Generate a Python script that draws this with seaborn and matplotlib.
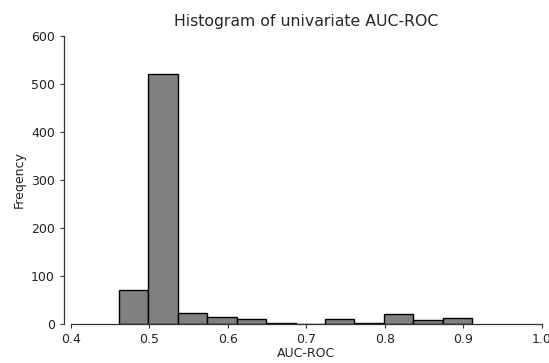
import numpy as np
import pandas as pd
import matplotlib
matplotlib.use("Agg")
import matplotlib.pyplot as plt
import seaborn as sns

# Bin edges and counts
bin_edges = [0.461, 0.4985, 0.536, 0.5735, 0.611, 0.6485, 0.686, 0.7235, 0.761, 0.7985, 0.836, 0.8735, 0.911]
counts = [71, 521, 23, 14, 10, 3, 1, 10, 3, 20, 8, 13]
x_ticks = [0.4, 0.5, 0.6, 0.7, 0.8, 0.9, 1.0]
y_ticks = [0, 100, 200, 300, 400, 500, 600]

centers = [(a + b) / 2 for a, b in zip(bin_edges[:-1], bin_edges[1:])]
df = pd.DataFrame({"auc": centers, "n": counts})

sns.set_style("white")
plt.rcParams["font.family"] = ["DejaVu Sans"]

fig = plt.figure(figsize=(5.49, 3.63), dpi=100)
ax = fig.add_axes([71/549, 1 - 324/363, (542-71)/549, (324-36)/363])

sns.histplot(data=df, x="auc", weights="n", bins=bin_edges, ax=ax,
             color="#808080", edgecolor="black", linewidth=1.0, alpha=1.0)

ax.set_xlim(0.4, 1.0)
ax.set_ylim(0, 600)
ax.set_xticks(x_ticks)
ax.set_yticks(y_ticks)
ax.tick_params(axis="both", labelsize=9, length=3, colors="#333333", labelcolor="#222222")
ax.tick_params(axis="both", which="both", bottom=True, left=True)
ax.set_xlabel("AUC-ROC", fontsize=9, labelpad=1)
ax.set_ylabel("Freqency", fontsize=9)
ax.set_title("Histogram of univariate AUC-ROC", fontsize=11.3, pad=7)

sns.despine(ax=ax)
ax.spines["left"].set_position(("outward", 5))
for s in ["left", "bottom"]:
    ax.spines[s].set_color("#333333")
    ax.spines[s].set_linewidth(0.9)

fig.savefig("out.png", dpi=100)
